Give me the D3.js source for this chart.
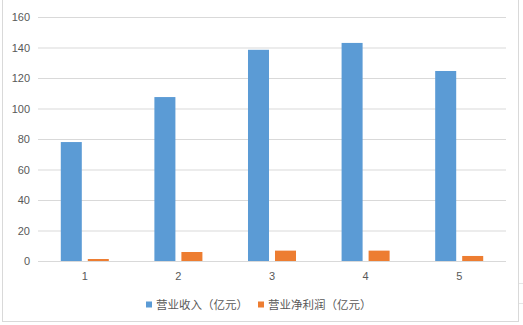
<!DOCTYPE html>
<html>
<head>
<meta charset="utf-8">
<script src="https://cdn.jsdelivr.net/npm/d3@7"></script>
<style>
  body { margin: 0; background: #fff; }
  svg { display: block; }
  .tick text { font-family: "Liberation Sans", "Noto Sans", sans-serif; font-size: 11px; fill: #595959; }
  .legendText { font-family: "Noto Sans CJK SC", sans-serif; font-size: 11.5px; fill: #595959; }
</style>
</head>
<body>
<div id="chart"></div>
<script>
var categories = ["1", "2", "3", "4", "5"];
var seriesNames = ["营业收入（亿元）", "营业净利润（亿元）"];
var revenue = [78, 107.5, 138.5, 143, 124.6];
var profit = [1.3, 5.9, 6.8, 6.8, 3.3];
var yTicks = [0, 20, 40, 60, 80, 100, 120, 140, 160];
var colors = ["#5b9bd5", "#ed7d31"];

var svgWidth = 523;
var svgHeight = 325;

var svg = d3.select("#chart")
  .append("svg")
  .attr("width", svgWidth)
  .attr("height", svgHeight);

// faint spreadsheet cells outside the chart frame
svg.append("g").selectAll("line")
  .data([283, 303])
  .enter()
  .append("line")
  .attr("x1", 519).attr("x2", 523)
  .attr("y1", d => d + 0.5).attr("y2", d => d + 0.5)
  .style("stroke", "#e6e6e6");

// chart frame
svg.append("rect")
  .attr("x", 2.5)
  .attr("y", -1)
  .attr("width", 516)
  .attr("height", 322.5)
  .style("fill", "#fff")
  .style("stroke", "#d9d9d9");

var plot = { left: 38, right: 506, top: 17, bottom: 261 };

var x0 = d3.scaleBand()
  .domain(categories)
  .range([plot.left, plot.right])
  .paddingInner(0.487)
  .paddingOuter(0.2435);

var x1 = d3.scaleBand()
  .domain(seriesNames)
  .range([0, x0.bandwidth()])
  .paddingInner(0.222);

var y = d3.scaleLinear()
  .domain([0, 160])
  .range([plot.bottom, plot.top]);

// gridlines + y labels
var leftAxis = d3.axisLeft(y)
  .tickValues(yTicks)
  .tickSize(-(plot.right - plot.left))
  .tickPadding(8);

var yAxis = svg.append("g")
  .attr("transform", `translate(${plot.left}, 0)`)
  .call(leftAxis);
yAxis.select(".domain").remove();
yAxis.selectAll(".tick line").style("stroke", "#d9d9d9");

// x labels
var bottomAxis = d3.axisBottom(x0).tickSize(0).tickPadding(11);
var xAxis = svg.append("g")
  .attr("transform", `translate(0, ${plot.bottom})`)
  .call(bottomAxis);
xAxis.select(".domain").remove();

// bars
var rows = categories.map(function(c, i) {
  return { cat: c, values: [revenue[i], profit[i]] };
});

var groups = svg.selectAll(".group")
  .data(rows)
  .enter()
  .append("g")
  .attr("class", "group")
  .attr("transform", d => `translate(${x0(d.cat)}, 0)`);

groups.selectAll("rect")
  .data(d => d.values.map((v, j) => ({ name: seriesNames[j], value: v, color: colors[j] })))
  .enter()
  .append("rect")
  .attr("x", d => x1(d.name))
  .attr("y", d => y(d.value))
  .attr("width", x1.bandwidth())
  .attr("height", d => y(0) - y(d.value))
  .style("fill", d => d.color);

// legend
var legendItems = [
  { name: seriesNames[0], color: colors[0], x: 146 },
  { name: seriesNames[1], color: colors[1], x: 258 }
];

var legend = svg.selectAll(".legend")
  .data(legendItems)
  .enter()
  .append("g")
  .attr("class", "legend")
  .attr("transform", d => `translate(${d.x}, 301.5)`);

legend.append("rect")
  .attr("width", 6)
  .attr("height", 6)
  .style("fill", d => d.color);

legend.append("text")
  .attr("class", "legendText")
  .attr("x", 10)
  .attr("y", 3)
  .attr("dy", "0.36em")
  .text(d => d.name);
</script>
</body>
</html>
